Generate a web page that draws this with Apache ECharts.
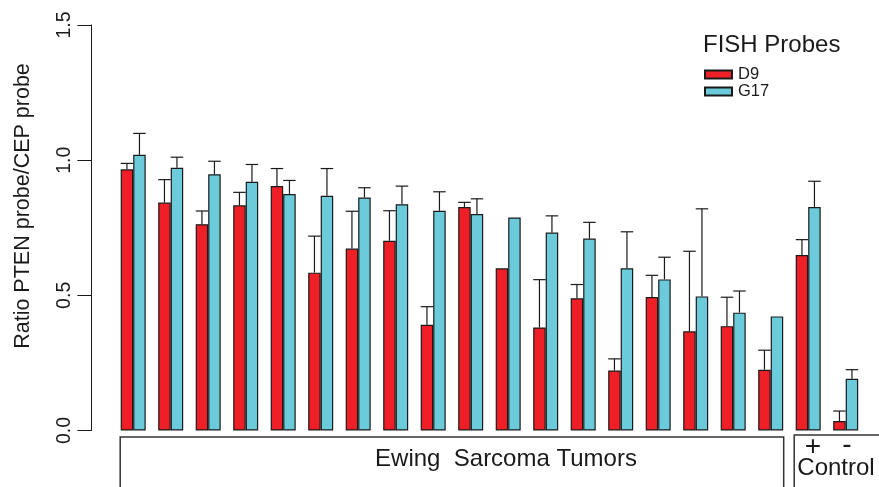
<!DOCTYPE html>
<html>
<head>
<meta charset="utf-8">
<script src="https://cdn.jsdelivr.net/npm/echarts@6/dist/echarts.min.js"></script>
<style>
html,body{margin:0;padding:0;background:#fff;}
#chart{width:879px;height:487px;}
</style>
</head>
<body>
<div id="chart"></div>
<script>
// ---- data ----
const categories = ['T1','T2','T3','T4','T5','T6','T7','T8','T9','T10','T11','T12','T13','T14','T15','T16','T17','T18','+','-'];
const d9Values  = [0.966, 0.843, 0.763, 0.833, 0.904, 0.584, 0.673, 0.702, 0.391, 0.827, 0.600, 0.381, 0.489, 0.222, 0.494, 0.367, 0.386, 0.225, 0.649, 0.035];
const d9Upper   = [0.988, 0.928, 0.812, 0.881, 0.969, 0.719, 0.811, 0.813, 0.458, 0.844, null,  0.558, 0.540, 0.265, 0.574, 0.663, 0.493, 0.297, 0.706, 0.072];
const g17Values = [1.020, 0.972, 0.948, 0.920, 0.875, 0.868, 0.862, 0.837, 0.813, 0.801, 0.788, 0.732, 0.710, 0.600, 0.559, 0.496, 0.436, 0.422, 0.827, 0.191];
const g17Upper  = [1.099, 1.011, 0.996, 0.984, 0.925, 0.969, 0.898, 0.904, 0.883, 0.857, null,  0.794, 0.770, 0.735, 0.641, 0.820, 0.516, null,  0.922, 0.225];
const yTickLabels = ['0.0', '0.5', '1.0', '1.5'];
const seriesNames = ['D9', 'G17'];

const FONT = '"Liberation Sans", Arial, Helvetica, sans-serif';
const RED = '#EE1F26';
const CYAN = '#6BCBDA';
const INK = '#1a1a1a';

function errData(vals, ups) {
  const out = [];
  vals.forEach((v, i) => { if (ups[i] != null) out.push([i, v, ups[i]]); });
  return out;
}

function errRender(sign) {
  return function (params, api) {
    const idx = api.value(0);
    const base = api.coord([idx, api.value(1)]);
    const top = api.coord([idx, api.value(2)]);
    const band = api.size([1, 0])[0];
    const bw = band / 3;
    const x = base[0] + sign * bw / 2;
    const half = bw / 2;
    const st = { stroke: INK, lineWidth: 1.2 };
    return {
      type: 'group',
      children: [
        { type: 'line', shape: { x1: x, y1: base[1], x2: x, y2: top[1] }, style: st },
        { type: 'line', shape: { x1: x - half, y1: top[1], x2: x + half, y2: top[1] }, style: st }
      ]
    };
  };
}

const chart = echarts.init(document.getElementById('chart'), null, { renderer: 'canvas' });

chart.setOption({
  animation: false,
  backgroundColor: '#fff',
  grid: { left: 114.45, right: 14.55, top: 25, bottom: 56.5, containLabel: false },
  legend: {
    data: seriesNames,
    orient: 'vertical',
    left: 704,
    top: 66,
    itemWidth: 27,
    itemHeight: 8,
    itemGap: 0,
    padding: 0,
    icon: 'rect',
    textStyle: { fontFamily: FONT, fontSize: 16.5, color: INK, lineHeight: 16, padding: [0, 0, 0, 1] }
  },
  xAxis: {
    type: 'category',
    data: categories,
    show: false
  },
  yAxis: {
    type: 'value',
    min: 0,
    max: 1.5,
    interval: 0.5,
    offset: 23,
    axisLine: { show: true, lineStyle: { color: INK, width: 1 } },
    axisTick: { show: true, length: 14, lineStyle: { color: INK, width: 1 } },
    splitLine: { show: false },
    axisLabel: {
      rotate: 90,
      margin: 17,
      fontFamily: FONT,
      fontSize: 19.5,
      color: INK,
      formatter: (v) => yTickLabels[Math.round(v / 0.5)]
    }
  },
  series: [
    {
      name: seriesNames[0],
      type: 'bar',
      data: d9Values,
      barWidth: '33.333%',
      barGap: '0%',
      itemStyle: { color: RED, borderColor: INK, borderWidth: 1.2 },
      z: 2
    },
    {
      name: seriesNames[1],
      type: 'bar',
      data: g17Values,
      barWidth: '33.333%',
      barGap: '0%',
      itemStyle: { color: CYAN, borderColor: INK, borderWidth: 1.2 },
      z: 2
    },
    {
      name: 'D9 error',
      type: 'custom',
      renderItem: errRender(-1),
      data: errData(d9Values, d9Upper),
      encode: { x: 0, y: [1, 2] },
      z: 3
    },
    {
      name: 'G17 error',
      type: 'custom',
      renderItem: errRender(1),
      data: errData(g17Values, g17Upper),
      encode: { x: 0, y: [1, 2] },
      z: 3
    }
  ]
});

// annotations positioned from the axis scale
const c0 = chart.convertToPixel({ xAxisIndex: 0 }, 0);
const c1 = chart.convertToPixel({ xAxisIndex: 0 }, 1);
const band = c1 - c0;
const bw = band / 3;
const cLastTumor = chart.convertToPixel({ xAxisIndex: 0 }, 17);
const cPos = chart.convertToPixel({ xAxisIndex: 0 }, 18);
const ewLeft = c0 - bw - 0.5;
const ewRight = cLastTumor + bw + 0.5;
const ctlLeft = cPos - bw - 1.5;
const lineStyle = { stroke: '#333', lineWidth: 1.5, fill: null };

chart.setOption({
  graphic: [
    { type: 'polyline', shape: { points: [[ewLeft, 500], [ewLeft, 437], [ewRight, 437], [ewRight, 500]] }, style: lineStyle, silent: true },
    { type: 'polyline', shape: { points: [[ctlLeft, 500], [ctlLeft, 435], [900, 435]] }, style: lineStyle, silent: true },
    { type: 'text', x: 506, y: 459, style: { text: 'Ewing  Sarcoma Tumors', font: '24px ' + FONT, fill: INK, align: 'center', verticalAlign: 'middle' } },
    { type: 'text', x: 813, y: 447, style: { text: '+', font: '28px ' + FONT, fill: INK, align: 'center', verticalAlign: 'middle' } },
    { type: 'text', x: 847, y: 445, style: { text: '-', font: '28px ' + FONT, fill: INK, align: 'center', verticalAlign: 'middle' } },
    { type: 'text', x: 836, y: 468, style: { text: 'Control', font: '24px ' + FONT, fill: INK, align: 'center', verticalAlign: 'middle' } },
    { type: 'text', x: 703, y: 45, style: { text: 'FISH Probes', font: '24px ' + FONT, fill: INK, align: 'left', verticalAlign: 'middle' } },
    { type: 'text', x: 23, y: 206, rotation: Math.PI / 2, style: { text: 'Ratio PTEN probe/CEP probe', font: '21.5px ' + FONT, fill: INK, align: 'center', verticalAlign: 'middle' } }
  ]
});
</script>
</body>
</html>
